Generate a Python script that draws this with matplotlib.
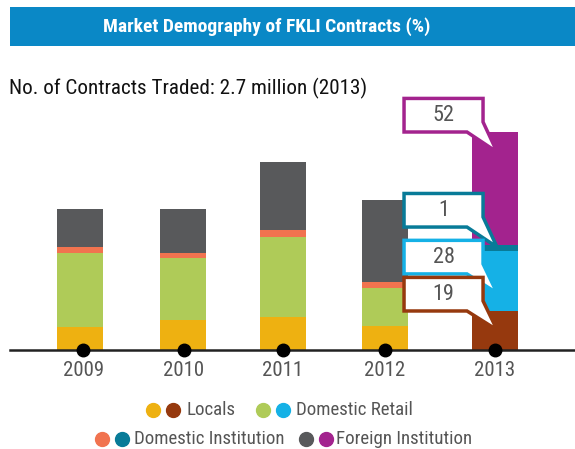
import matplotlib
matplotlib.use("Agg")
import matplotlib.pyplot as plt
from matplotlib import font_manager as fm
from matplotlib.patches import Rectangle, Polygon
from matplotlib.lines import Line2D
import numpy as np

years = ["2009", "2010", "2011", "2012", "2013"]
locals_ = [10.4, 13.9, 15.1, 11.0, 17.9]
dom_retail = [34.0, 28.3, 36.7, 17.4, 27.5]
dom_inst = [2.8, 2.3, 3.2, 2.8, 2.7]
foreign_inst = [17.4, 20.2, 31.2, 37.6, 51.9]
callout_labels = ["52", "1", "28", "19"]

c_old = ["#eeb111", "#afcb58", "#f1734f", "#58595b"]
c_new = ["#96390e", "#15b1e6", "#087b98", "#a3238e"]

names = {f.name for f in fm.fontManager.ttflist}
cands = ["Roboto Condensed", "Liberation Sans Narrow", "Open Sans Condensed", "Roboto"]
FNAME = next(c for c in cands if c in names or c == "Roboto")
FONT = [FNAME, "DejaVu Sans"]
narrow = FNAME != "Roboto"
sz = dict(title=14 if narrow else 13, sub=15.2 if narrow else 14,
          tick=15 if narrow else 12.5, call=16 if narrow else 14, leg=13.6 if narrow else 12)

W, H = 575, 449
fig = plt.figure(figsize=(W/100, H/100), dpi=100)
fig.patch.set_facecolor("white")

def fx(px): return px / W
def fy(py): return 1 - py / H

fig.patches.append(Rectangle((fx(10), fy(46)), fx(575) - fx(10), fy(7) - fy(46),
                             transform=fig.transFigure, facecolor="#0a88c6", edgecolor="none"))
fig.text(fx(267), fy(27), "Market Demography of FKLI Contracts (%)", color="white",
         fontsize=sz["title"], fontweight="bold", family=FONT, ha="center", va="center")
fig.text(fx(9), fy(88), "No. of Contracts Traded: 2.7 million (2013)", color="#111111",
         fontsize=sz["sub"], family=FONT, ha="left", va="center")

ax_top, ax_bot = 90, 350
ax = fig.add_axes([fx(10), fy(ax_bot), fx(575) - fx(10), (ax_bot - ax_top) / H])
ax.set_xlim((10 - 80) / 103, (575 - 80) / 103)
ax.set_ylim(0, (ax_bot - ax_top) / 2.18)
ax.axis("off")

x = np.array([0, 1, 1.971, 2.961, 4.029])
dot_x = np.array([0.03, 1.005, 1.971, 2.961, 4.029])
series = [locals_, dom_retail, dom_inst, foreign_inst]
bottom = np.zeros(len(years))
for si, s in enumerate(series):
    vals = np.array(s, dtype=float)
    cols = [c_old[si]] * 4 + [c_new[si]]
    ax.bar(x, vals, bottom=bottom, width=0.45, color=cols, edgecolor="none", zorder=2)
    bottom += vals

ax.axhline(0, color="#222222", lw=1.8, zorder=3, clip_on=False)
ax.plot(dot_x, np.zeros(len(x)), "o", color="black", ms=9, zorder=4, clip_on=False)

for xi, yl in zip(dot_x, years):
    ax.text(xi, -9.6, yl, ha="center", va="center", fontsize=sz["tick"], color="#555555",
            family=FONT)

tips = [90.8, 47.2, 26.1, 9.2]
bottoms_ = [100.0, 56.4, 34.9, 17.9]
ccols = [c_new[3], c_new[2], c_new[1], c_new[0]]
bx0, bx1, bxs, tipx = 3.146, 3.913, 3.757, 4.049
bh = 15.4
for lab, ty, by, cc in zip(callout_labels, tips, bottoms_, ccols):
    poly = Polygon([(bx0, by), (bx0, by + bh), (bx1, by + bh), (bx1, by + 4.6),
                    (tipx, ty), (bxs, by)], closed=True, facecolor="white",
                   edgecolor=cc, lw=2.5, zorder=5, clip_on=False, joinstyle="miter")
    ax.add_patch(poly)
    ax.text((bx0 + bx1) / 2, by + bh / 2, lab, ha="center", va="center",
            fontsize=sz["call"], color="#555555", family=FONT, zorder=6)

def leg_item(px_dot1, py, col1, col2, text, px_text):
    fig.add_artist(Line2D([fx(px_dot1)], [fy(py)], marker="o", color=col1, ms=10,
                          transform=fig.transFigure, linestyle="none"))
    fig.add_artist(Line2D([fx(px_dot1 + 20)], [fy(py)], marker="o", color=col2, ms=10,
                          transform=fig.transFigure, linestyle="none"))
    fig.text(fx(px_text), fy(py), text, ha="left", va="center", fontsize=sz["leg"],
             color="#555555", family=FONT)

leg_item(153, 410, c_old[0], c_new[0], "Locals", 187)
leg_item(263, 410, c_old[1], c_new[1], "Domestic Retail", 296)
leg_item(102, 439, c_old[2], c_new[2], "Domestic Institution", 134)
leg_item(306, 439, c_old[3], c_new[3], "Foreign Institution", 336)

fig.savefig("out.png", dpi=100)
